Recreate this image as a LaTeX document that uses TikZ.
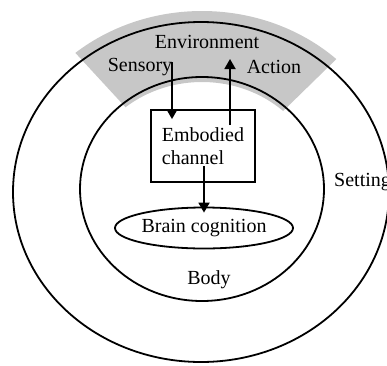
\documentclass[tikz,border=0pt]{standalone}
\usepackage{fontspec}
\setmainfont{Liberation Serif}
\usepackage{tikz}
\usetikzlibrary{arrows.meta, calc, positioning, shapes.geometric}
\tikzset{
    myline/.style={line width=1.8pt},
    myarrow/.style={line width=1.8pt,-{Triangle[length=10pt,width=11pt]}},
    mylabel/.style={font=\fontsize{20}{23}\selectfont,inner sep=0pt}
}

\begin{document}
\begin{tikzpicture}[x=1pt,y=1pt]
  \useasboundingbox (0,0) rectangle (387,365);
  % grey band for the environment
  \fill[black!22] (202,175) ++(47:197 and 179)
    arc[start angle=47,end angle=130,x radius=197,y radius=179]
    -- ($(202,175)+(130:119 and 108)$)
    arc[start angle=130,end angle=47,x radius=119,y radius=108] -- cycle;
  \draw[myline] (201,173) ellipse[x radius=188,y radius=170];
  \draw[myline] (202,176) ellipse[x radius=122,y radius=112];
  \node[mylabel] (env) at (207,323) {Environment};
  \node[mylabel] (sensory) at (140,298) {Sensory};
  \node[mylabel] (action) at (274,298) {Action};
  \node[mylabel,anchor=west] (setting) at (334,183) {Setting};
  \node[mylabel] (body) at (209,85) {Body};
  \node[mylabel,draw,myline,minimum width=104pt,minimum height=72pt,align=left] (channel) at (203,219) {Embodied\\channel};
  \node[mylabel,draw,myline,ellipse,minimum width=178pt,minimum height=41pt] (brain) at (204,137) {Brain cognition};
  \coordinate (sin) at (172,303);
  \coordinate (aout) at (230,306);
  \draw[myarrow] (sin) -- ([yshift=-10pt]sin |- channel.north);
  \draw[myarrow] ([yshift=-16pt]aout |- channel.north) -- (aout);
  \draw[myarrow] ([yshift=17pt]brain.north |- channel.south) -- ([yshift=-6pt]brain.north);
\end{tikzpicture}
\end{document}
